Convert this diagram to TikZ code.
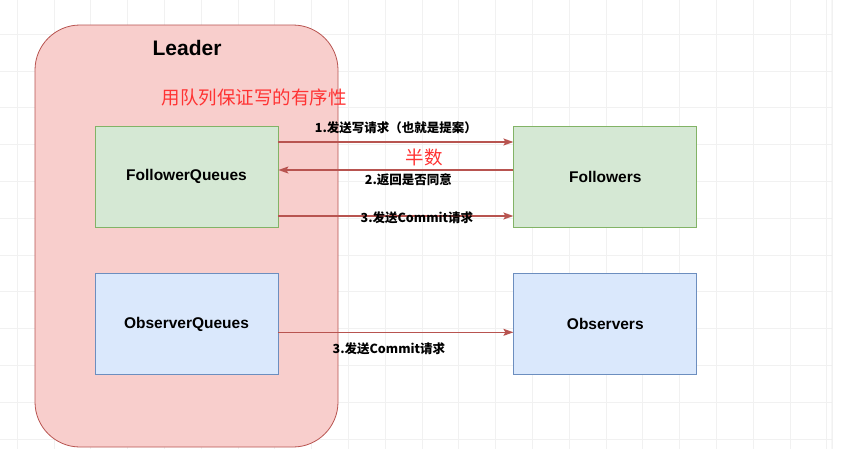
\documentclass[tikz,border=0pt]{standalone}
\usepackage{fontspec}
\setmainfont{Liberation Sans}
\newfontfamily\cjk{Noto Sans CJK SC}
\usetikzlibrary{positioning,arrows.meta}
\definecolor{leaderfill}{HTML}{F8CECC}
\definecolor{leaderdraw}{HTML}{B85450}
\definecolor{greenfill}{HTML}{D5E8D4}
\definecolor{greendraw}{HTML}{82B366}
\definecolor{bluefill}{HTML}{DAE8FC}
\definecolor{bluedraw}{HTML}{6C8EBF}
\definecolor{arrowred}{HTML}{B85450}
\definecolor{notered}{HTML}{FF3333}
\definecolor{gridgray}{HTML}{F1F1F1}
\tikzset{
box/.style={rectangle,draw,line width=0.8pt,minimum width=183pt,minimum height=101pt,inner sep=0pt,font=\fontsize{15.5}{18}\selectfont\bfseries},
fqbox/.style={box,fill=greenfill,draw=greendraw},
obbox/.style={box,fill=bluefill,draw=bluedraw},
msg/.style={-{Stealth[length=10pt,width=7pt,inset=2pt]},draw=arrowred,line width=1.4pt},
el/.style={font=\cjk\bfseries\fontsize{12.5}{14}\selectfont,inner sep=1pt},
note/.style={font=\cjk\fontsize{18.5}{20}\selectfont,text=notered,inner sep=0pt},
gridline/.style={draw=gridgray,line width=0.6pt},
}
\begin{document}
\begin{tikzpicture}[x=1pt,y=-1pt,node distance=46pt and 235pt]
	\useasboundingbox (0,0) rectangle (856,448);
	\fill[white] (0,0) rectangle (856,448);
	% grid card
	\begin{scope}
		\clip[rounded corners=12pt] (-20,-20) rectangle (832,470);
		\foreach \x in {17,53.8,...,830} \draw[gridline] (\x,-20) -- (\x,470);
		\foreach \y in {34,70.8,...,460} \draw[gridline] (-20,\y) -- (840,\y);
	\end{scope}
	\draw[draw=black!8,line width=1pt,rounded corners=12pt] (700,-20) -- (832,-20) -- (832,470);

	% leader
	\node[rectangle,draw=leaderdraw,fill=leaderfill,line width=0.8pt,rounded corners=45pt,
		minimum width=303pt,minimum height=422pt] (leader) at (186.5,236) {};
	\node[font=\fontsize{21}{24}\selectfont\bfseries] (title) at (187,48) {Leader};
	\node[note] (order) at (254,97) {用队列保证写的有序性};

	\node[fqbox] (fq) at (186.5,176.5) {\raisebox{-2pt}{FollowerQueues}};
	\node[fqbox,right=of fq] (fl) {\raisebox{-2pt}{Followers}};
	\node[obbox,below=of fq] (oq) {ObserverQueues};
	\node[obbox,right=of oq] (ob) {Observers};

	\draw[msg] ([yshift=34.5pt]fq.east) -- node[el,above=6pt] (m1) {1.发送写请求（也就是提案）} ([yshift=34.5pt]fl.west);
	\draw[msg] ([yshift=6.5pt]fl.west) -- node[el,below=2pt,xshift=12.5pt] (m2) {2.返回是否同意} ([yshift=6.5pt]fq.east);
	\draw[msg] ([yshift=-39.5pt]fq.east) -- node[el,xshift=21pt,yshift=-2pt] (m3) {3.发送Commit请求} ([yshift=-39.5pt]fl.west);
	\draw[msg] ([yshift=-8pt]oq.east) -- node[el,below=9pt,xshift=-7pt] (m4) {3.发送Commit请求} ([yshift=-8pt]ob.west);
	\node[note] (half) at (424,157) {半数};
\end{tikzpicture}
\end{document}
